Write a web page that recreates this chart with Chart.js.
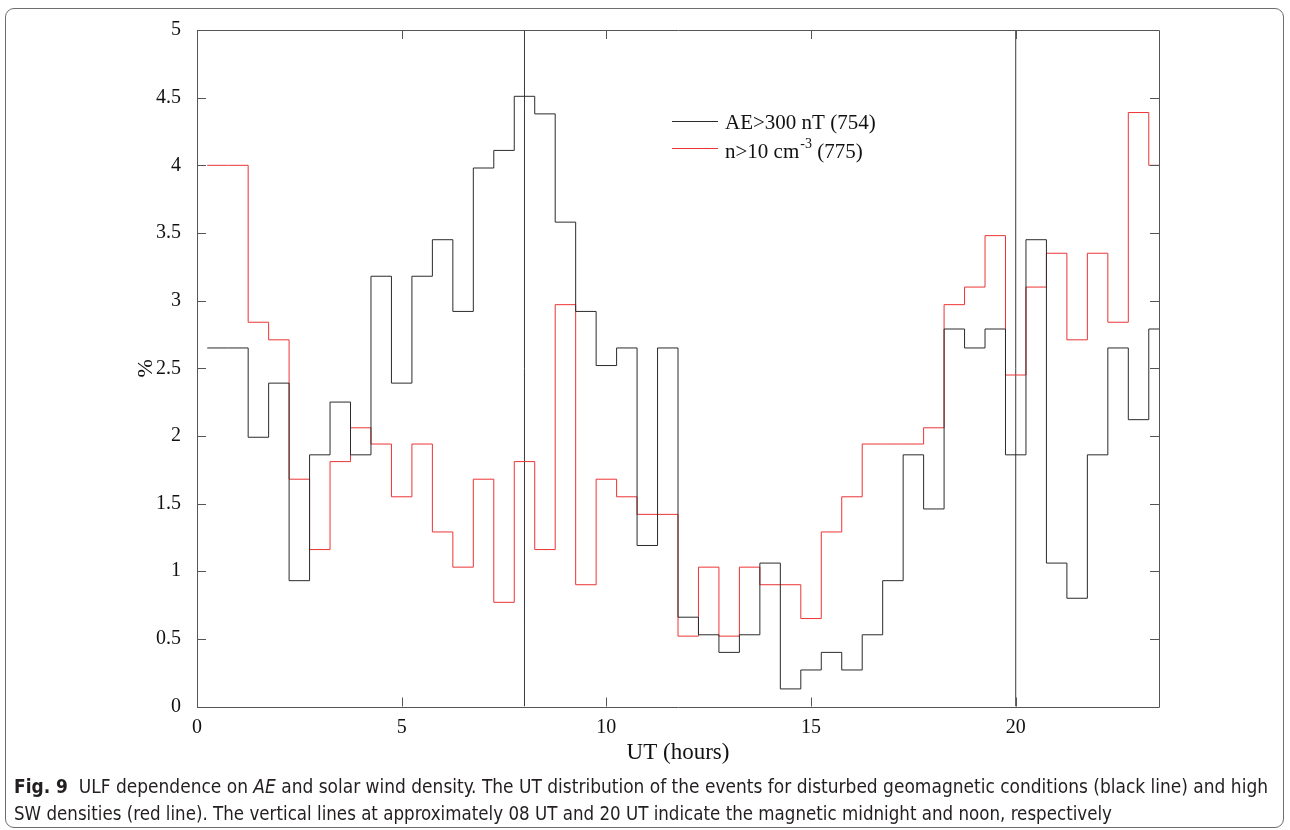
<!DOCTYPE html>
<html><head><meta charset="utf-8">
<script src="https://cdn.jsdelivr.net/npm/chart.js@4.4.1/dist/chart.umd.min.js"></script>
<style>
html,body{margin:0;padding:0;background:#fff;}
#wrap{position:relative;width:1290px;height:830px;overflow:hidden;background:#fff;}
#frame{position:absolute;left:5px;top:8px;width:1279px;height:820px;border:1px solid #6d6e71;border-radius:9px;box-sizing:border-box;}
#c{position:absolute;left:0;top:0;}
.cap{position:absolute;left:14px;font-family:"Liberation Sans Narrow","DejaVu Sans Condensed","Open Sans",sans-serif;font-size:19px;line-height:22px;color:#231f20;white-space:nowrap;transform-origin:0 0;}
</style></head><body>
<div id="wrap">
<div id="frame"></div>
<canvas id="c" width="1290" height="830"></canvas>
<div class="cap" id="cap1" style="top:775px"><b>Fig. 9</b>&nbsp; ULF dependence on <i>AE</i> and solar wind density. The UT distribution of the events for disturbed geomagnetic conditions (black line) and high</div>
<div class="cap" id="cap2" style="top:802px">SW densities (red line). The vertical lines at approximately 08 UT and 20 UT indicate the magnetic midnight and noon, respectively</div>
</div>
<script>
// ---- data ----
const hourStarts = [0.25,0.75,1.25,1.75,2.25,2.75,3.25,3.75,4.25,4.75,5.25,5.75,6.25,6.75,7.25,7.75,8.25,8.75,9.25,9.75,10.25,10.75,11.25,11.75,12.25,12.75,13.25,13.75,14.25,14.75,15.25,15.75,16.25,16.75,17.25,17.75,18.25,18.75,19.25,19.75,20.25,20.75,21.25,21.75,22.25,22.75,23.25];
const aePercent = [2.65,2.65,1.99,2.39,0.93,1.86,2.25,1.86,3.18,2.39,3.18,3.45,2.92,3.98,4.11,4.51,4.38,3.58,2.92,2.52,2.65,1.19,2.65,0.66,0.53,0.40,0.53,1.06,0.13,0.27,0.40,0.27,0.53,0.93,1.86,1.46,2.79,2.65,2.79,1.86,3.45,1.06,0.80,1.86,2.65,2.12,2.79];
const densityPercent = [4.00,4.00,2.84,2.71,1.68,1.16,1.81,2.06,1.94,1.55,1.94,1.29,1.03,1.68,0.77,1.81,1.16,2.97,0.90,1.68,1.55,1.42,1.42,0.52,1.03,0.52,1.03,0.90,0.90,0.65,1.29,1.55,1.94,1.94,1.94,2.06,2.97,3.10,3.48,2.45,3.10,3.35,2.71,3.35,2.84,4.39,4.00];
const markerHours = [8, 20];
const xTickValues = [0, 5, 10, 15, 20];
const yTickValues = [0, 0.5, 1, 1.5, 2, 2.5, 3, 3.5, 4, 4.5, 5];
const xMin = 0, xMax = 23.5, yMin = 0, yMax = 5;
const seriesNames = ['AE>300 nT (754)', 'n>10 cm', '-3', ' (775)'];
const xTitle = 'UT (hours)';
const yTitle = '%';

const BLACK = '#2b2b2b', RED = 'rgb(236,52,52)', AXIS = '#555555';
const SERIF = '"Liberation Serif","Times New Roman",serif';

function stairPoints(starts, vals){
  const pts = starts.map((h,i)=>({x:h, y:vals[i]}));
  pts.push({x:xMax, y:vals[vals.length-1]});
  return pts;
}

const datasets = [
  {data: stairPoints(hourStarts, aePercent), borderColor: BLACK},
  {data: stairPoints(hourStarts, densityPercent), borderColor: RED},
].map(d=>Object.assign(d,{stepped:'before', borderWidth:1, pointRadius:0, fill:false, tension:0}));
markerHours.forEach(h=>datasets.push({data:[{x:h,y:yMin},{x:h,y:yMax}], borderColor:'#3a3a3a', borderWidth:1, pointRadius:0, fill:false}));

const boxPlugin = {
  id:'boxTicks',
  afterDatasetsDraw(chart){
    const {ctx, chartArea:a, scales:{x, y}} = chart;
    ctx.save();
    ctx.strokeStyle = AXIS; ctx.lineWidth = 1;
    ctx.beginPath();
    ctx.rect(Math.round(a.left)+0.5, Math.round(a.top)+0.5, Math.round(a.right-a.left), Math.round(a.bottom-a.top));
    const tl = 9;
    yTickValues.forEach(v=>{
      const py = Math.round(y.getPixelForValue(v))+0.5;
      ctx.moveTo(a.left, py); ctx.lineTo(a.left+tl, py);
      ctx.moveTo(a.right, py); ctx.lineTo(a.right-tl, py);
    });
    xTickValues.forEach(v=>{
      const px = Math.round(x.getPixelForValue(v))+0.5;
      ctx.moveTo(px, a.bottom); ctx.lineTo(px, a.bottom-tl);
      ctx.moveTo(px, a.top); ctx.lineTo(px, a.top+tl);
    });
    ctx.stroke();
    // legend
    const lx0 = a.left + 475, lx1 = a.left + 521, tx = a.left + 528;
    ctx.lineWidth = 1;
    ctx.strokeStyle = BLACK;
    ctx.beginPath(); ctx.moveTo(lx0, a.top+91.5); ctx.lineTo(lx1, a.top+91.5); ctx.stroke();
    ctx.strokeStyle = RED;
    ctx.beginPath(); ctx.moveTo(lx0, a.top+118.5); ctx.lineTo(lx1, a.top+118.5); ctx.stroke();
    ctx.fillStyle = '#111';
    ctx.textBaseline = 'alphabetic'; ctx.textAlign = 'left';
    ctx.font = '21px ' + SERIF;
    ctx.fillText(seriesNames[0], tx, a.top+99);
    ctx.fillText(seriesNames[1], tx, a.top+128);
    let w = ctx.measureText(seriesNames[1]).width;
    ctx.font = '14px ' + SERIF;
    ctx.fillText(seriesNames[2], tx+w+1, a.top+118);
    const w2 = ctx.measureText(seriesNames[2]).width;
    ctx.font = '21px ' + SERIF;
    ctx.fillText(seriesNames[3], tx+w+1+w2, a.top+128);
    ctx.restore();
  }
};

new Chart(document.getElementById('c'), {
  type:'line',
  data:{datasets},
  options:{
    responsive:false, animation:false, devicePixelRatio:1,
    layout:{padding:{left:0, top:30, right:131, bottom:63.5}},
    plugins:{legend:{display:false}, tooltip:{enabled:false}},
    scales:{
      x:{type:'linear', min:xMin, max:xMax,
        grid:{display:false}, border:{display:false},
        afterBuildTicks:s=>{s.ticks = xTickValues.map(v=>({value:v}));},
        afterFit:s=>{s.height = 60;},
        ticks:{color:'#111', font:{family:SERIF, size:20}, padding:1, maxRotation:0, autoSkip:false,
          callback:v=>String(v)},
        title:{display:true, text:xTitle, color:'#111', font:{family:SERIF, size:23}, padding:{top:0,bottom:0}}
      },
      y:{type:'linear', min:yMin, max:yMax,
        grid:{display:false}, border:{display:false},
        afterBuildTicks:s=>{s.ticks = yTickValues.map(v=>({value:v}));},
        afterFit:s=>{s.width = 197;},
        ticks:{color:'#111', font:{family:SERIF, size:20}, padding:8, callback:v=>String(v)},
        title:{display:true, text:yTitle, color:'#111', font:{family:SERIF, size:22}, padding:{top:133,bottom:0}}
      }
    }
  },
  plugins:[boxPlugin]
});

// fit caption widths
(function(){
  const c1 = document.getElementById('cap1'), c2 = document.getElementById('cap2');
  c1.style.transform = 'scaleX(' + (1254 / c1.getBoundingClientRect().width) + ')';
  c2.style.transform = 'scaleX(' + (1098 / c2.getBoundingClientRect().width) + ')';
})();
</script>
</body></html>
